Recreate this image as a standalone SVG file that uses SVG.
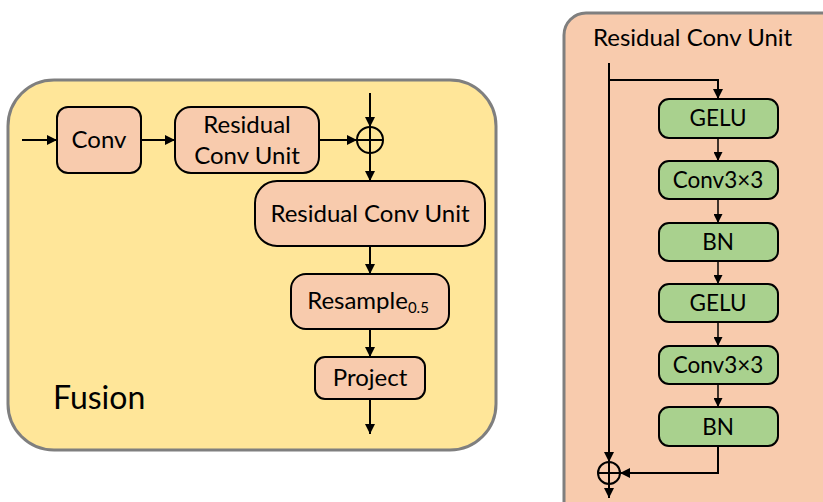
<svg xmlns="http://www.w3.org/2000/svg" width="823" height="502" viewBox="0 0 823 502">
  <defs>
    <marker id="arrow" viewBox="0 0 10 10" refX="10" refY="5" markerWidth="5.5" markerHeight="5" markerUnits="strokeWidth" orient="auto">
      <path d="M0,0 L10,5 L0,10 z" fill="#000"/>
    </marker>
    <marker id="arrow-sm" viewBox="0 0 10 10" refX="10" refY="5" markerWidth="6" markerHeight="6" markerUnits="strokeWidth" orient="auto">
      <path d="M0,0 L10,5 L0,10 z" fill="#000"/>
    </marker>
  </defs>
  <style>
    text { font-family: Lato, "Liberation Sans", sans-serif; fill: #000; }
    .panel-y { fill: #FFE699; stroke: #7F7F7F; stroke-width: 3; }
    .panel-p { fill: #F8CBAD; stroke: #7F7F7F; stroke-width: 3; }
    .peach { fill: #F8CBAD; stroke: #000; stroke-width: 2; }
    .green { fill: #A9D18E; stroke: #000; stroke-width: 2; }
    .lbl { font-size: 24px; text-anchor: middle; }
    .glbl { font-size: 22.5px; text-anchor: middle; }
    .edge { fill: none; stroke: #000; stroke-width: 2; marker-end: url(#arrow); }
    .edge-thin { fill: none; stroke: #000; stroke-width: 1.5; marker-end: url(#arrow-sm); }
    .line { fill: none; stroke: #000; stroke-width: 2; }
    .sum { fill: none; stroke: #000; stroke-width: 2; }
  </style>

  <!-- Fusion block -->
  <g id="fusion">
    <rect class="panel-y" x="8" y="80" width="488" height="370" rx="46"/>
    <text x="53" y="409" font-size="32">Fusion</text>
  </g>
  <g id="conv">
    <rect class="peach" x="57" y="107" width="84" height="66" rx="11"/>
    <text class="lbl" x="99" y="148">Conv</text>
  </g>
  <g id="rcu-a">
    <rect class="peach" x="175" y="107" width="144" height="66" rx="16"/>
    <text class="lbl" x="247" y="133">Residual</text>
    <text class="lbl" x="247" y="164">Conv Unit</text>
  </g>
  <g id="sum-a">
    <circle class="sum" cx="370" cy="140" r="13"/>
    <path class="line" d="M357,140 H383 M370,127 V153"/>
  </g>
  <g id="rcu-b">
    <rect class="peach" x="255" y="181" width="230" height="65" rx="22"/>
    <text class="lbl" x="370" y="222">Residual Conv Unit</text>
  </g>
  <g id="resample">
    <rect class="peach" x="291" y="274" width="158" height="55" rx="15"/>
    <text class="lbl" x="368" y="309">Resample<tspan font-size="15" dy="4">0.5</tspan></text>
  </g>
  <g id="project">
    <rect class="peach" x="315" y="357" width="110" height="42" rx="10"/>
    <text class="lbl" x="370" y="386">Project</text>
  </g>

  <!-- Residual Conv Unit detail -->
  <g id="rcu-panel">
    <rect class="panel-p" x="564" y="13" width="280" height="520" rx="22"/>
    <text x="593" y="46" font-size="24">Residual Conv Unit</text>
  </g>
  <g id="gelu-1">
    <rect class="green" x="659" y="99" width="119" height="39" rx="10"/>
    <text class="glbl" x="718" y="126">GELU</text>
  </g>
  <g id="conv3-1">
    <rect class="green" x="659" y="161" width="119" height="38" rx="10"/>
    <text class="glbl" x="718" y="188">Conv3×3</text>
  </g>
  <g id="bn-1">
    <rect class="green" x="659" y="223" width="119" height="38" rx="10"/>
    <text class="glbl" x="718" y="250">BN</text>
  </g>
  <g id="gelu-2">
    <rect class="green" x="659" y="284" width="119" height="38" rx="10"/>
    <text class="glbl" x="718" y="311">GELU</text>
  </g>
  <g id="conv3-2">
    <rect class="green" x="659" y="346" width="119" height="38" rx="10"/>
    <text class="glbl" x="718" y="373">Conv3×3</text>
  </g>
  <g id="bn-2">
    <rect class="green" x="659" y="407" width="119" height="39" rx="10"/>
    <text class="glbl" x="718" y="435">BN</text>
  </g>
  <g id="sum-b">
    <circle class="sum" cx="609" cy="473" r="11"/>
    <path class="line" d="M598,473 H620 M609,462 V484"/>
  </g>

  <!-- Connectors -->
  <g id="connectors">
    <path class="edge" d="M22,140 H57"/>
    <path class="edge" d="M141,140 H175"/>
    <path class="edge" d="M319,140 H357"/>
    <path class="edge" d="M370,93 V127"/>
    <path class="edge" d="M370,153 V181"/>
    <path class="edge" d="M370,246 V274"/>
    <path class="edge" d="M370,329 V357"/>
    <path class="edge" d="M370,399 V434"/>

    <path class="edge" d="M609,63 V462"/>
    <path class="edge" d="M609,80 H718 V99"/>
    <path class="edge-thin" d="M718,138 V161"/>
    <path class="edge-thin" d="M718,199 V223"/>
    <path class="edge-thin" d="M718,261 V284"/>
    <path class="edge-thin" d="M718,322 V346"/>
    <path class="edge-thin" d="M718,384 V407"/>
    <path class="edge" d="M718,446 V473 H620"/>
    <path class="edge" d="M609,484 V498"/>
  </g>
</svg>
